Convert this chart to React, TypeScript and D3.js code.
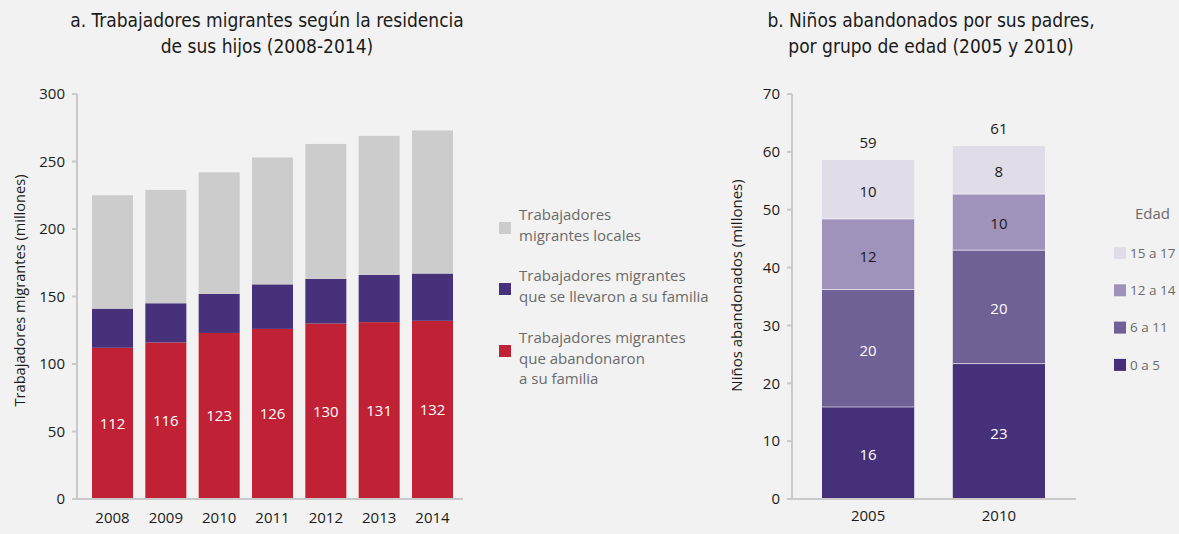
import React from "react";
import * as d3 from "d3";

// panel a: migrant workers by residence of children (millions)
const years = ["2008", "2009", "2010", "2011", "2012", "2013", "2014"];
const abandoned = [112, 116, 123, 126, 130, 131, 132];
const tookFamily = [29, 29, 29, 33, 33, 35, 35];
const localWorkers = [84, 84, 90, 94, 100, 103, 106];
const leftTicks = [0, 50, 100, 150, 200, 250, 300];
const leftLegend = [
  { key: "local", lines: ["Trabajadores", "migrantes locales"] },
  { key: "took", lines: ["Trabajadores migrantes", "que se llevaron a su familia"] },
  { key: "abandoned", lines: ["Trabajadores migrantes", "que abandonaron", "a su familia"] },
];

// panel b: abandoned children by age group (millions)
const censusYears = ["2005", "2010"];
const ageGroups = ["0 a 5", "6 a 11", "12 a 14", "15 a 17"];
const age0to5 = [15.9, 23.4];
const age6to11 = [20.3, 19.6];
const age12to14 = [12.2, 9.7];
const age15to17 = [10.2, 8.3];
const rightTicks = [0, 10, 20, 30, 40, 50, 60, 70];

const W = 1179;
const H = 534;
const BG = "#f2f2f2";
const AXIS = "#c9c9c9";
const TEXT = "#1a1a1a";
const LEGEND_TEXT = "#6b6b6b";
const FONT = "'Open Sans', 'Noto Sans', sans-serif";
const TITLE_FONT = "'Liberation Sans Narrow', 'DejaVu Sans Condensed', sans-serif";

const leftColors: Record<string, string> = {
  local: "#cccccc",
  took: "#47317a",
  abandoned: "#c12134",
};
const ageColors = ["#46307a", "#6f6096", "#a093bb", "#e0dde9"];
const ageLabelColors = ["#ffffff", "#ffffff", TEXT, TEXT];

const LeftChart = () => {
  const x = d3.scaleBand<string>().domain(years).range([92, 453]).paddingInner(0.231);
  const y = d3.scaleLinear().domain([0, 300]).range([499, 94]);
  const rows = years.map((yr, i) => ({
    year: yr,
    abandoned: abandoned[i],
    took: tookFamily[i],
    local: localWorkers[i],
  }));
  const stacked = d3.stack<any>().keys(["abandoned", "took", "local"])(rows);

  return (
    <g>
      <text x={267} y={27} textAnchor="middle" fontFamily={TITLE_FONT} fontSize={19} fill={TEXT}>
        a. Trabajadores migrantes según la residencia
      </text>
      <text x={267} y={53} textAnchor="middle" fontFamily={TITLE_FONT} fontSize={19} fill={TEXT}>
        de sus hijos (2008-2014)
      </text>

      {stacked.map((layer) => (
        <g key={layer.key} fill={leftColors[layer.key]}>
          {layer.map((d, i) => (
            <rect
              key={years[i]}
              x={x(years[i])}
              y={y(d[1])}
              width={x.bandwidth()}
              height={y(d[0]) - y(d[1])}
            />
          ))}
        </g>
      ))}
      {abandoned.map((v, i) => (
        <text
          key={`lab-${i}`}
          x={(x(years[i]) as number) + x.bandwidth() / 2}
          y={(y(0) + y(v)) / 2}
          dy="0.35em"
          textAnchor="middle"
          fontFamily={FONT}
          fontSize={15}
          fill="#ffffff"
        >
          {v}
        </text>
      ))}

      {/* axes */}
      <line x1={77} x2={77} y1={94} y2={500} stroke={AXIS} strokeWidth={2} />
      <line x1={72} x2={463} y1={y(0)} y2={y(0)} stroke={AXIS} strokeWidth={2} />
      {leftTicks.map((t) => (
        <g key={t}>
          <line x1={72} x2={77} y1={y(t)} y2={y(t)} stroke={AXIS} strokeWidth={2} />
          <text x={65} y={y(t)} dy="0.35em" textAnchor="end" fontFamily={FONT} fontSize={15} fill={TEXT}>
            {t}
          </text>
        </g>
      ))}
      {years.map((yr) => (
        <text
          key={yr}
          x={(x(yr) as number) + x.bandwidth() / 2}
          y={518}
          dy="0.35em"
          textAnchor="middle"
          fontFamily={FONT}
          fontSize={15}
          fill={TEXT}
        >
          {yr}
        </text>
      ))}
      <text
        transform={`translate(20, ${(y(0) + y(300)) / 2 - 6}) rotate(-90)`}
        textAnchor="middle"
        dy="0.35em"
        fontFamily={FONT}
        fontSize={14.6}
        fill={TEXT}
      >
        Trabajadores migrantes (millones)
      </text>

      {/* legend */}
      {leftLegend.map((item, i) => {
        const top = [215, 276, 338][i];
        return (
          <g key={item.key}>
            <rect x={499} y={top + 7} width={12} height={12} fill={leftColors[item.key]} />
            {item.lines.map((ln, j) => (
              <text
                key={j}
                x={519}
                y={top + j * 20.5}
                dy="0.35em"
                fontFamily={FONT}
                fontSize={15}
                fill={LEGEND_TEXT}
              >
                {ln}
              </text>
            ))}
          </g>
        );
      })}
    </g>
  );
};

const RightChart = () => {
  const x = d3.scaleBand<string>().domain(censusYears).range([822, 1045]).paddingInner(0.295);
  const y = d3.scaleLinear().domain([0, 70]).range([499, 94]);
  const rows = censusYears.map((yr, i) => ({
    year: yr,
    a0: age0to5[i],
    a1: age6to11[i],
    a2: age12to14[i],
    a3: age15to17[i],
  }));
  const keys = ["a0", "a1", "a2", "a3"];
  const stacked = d3.stack<any>().keys(keys)(rows);

  return (
    <g>
      <text x={931} y={27} textAnchor="middle" fontFamily={TITLE_FONT} fontSize={19} fill={TEXT}>
        b. Niños abandonados por sus padres,
      </text>
      <text x={931} y={53} textAnchor="middle" fontFamily={TITLE_FONT} fontSize={19} fill={TEXT}>
        por grupo de edad (2005 y 2010)
      </text>

      {stacked.map((layer, k) => (
        <g key={layer.key}>
          {layer.map((d, i) => {
            const x0 = x(censusYears[i]) as number;
            return (
              <g key={censusYears[i]}>
                <rect
                  x={x0}
                  y={y(d[1])}
                  width={x.bandwidth()}
                  height={y(d[0]) - y(d[1])}
                  fill={ageColors[k]}
                />
                {k > 0 && (
                  <line x1={x0} x2={x0 + x.bandwidth()} y1={y(d[0])} y2={y(d[0])} stroke="#ffffff" strokeOpacity={0.6} strokeWidth={1} />
                )}
                <text
                  x={x0 + x.bandwidth() / 2}
                  y={(y(d[0]) + y(d[1])) / 2 + 2}
                  dy="0.35em"
                  textAnchor="middle"
                  fontFamily={FONT}
                  fontSize={15}
                  fill={ageLabelColors[k]}
                >
                  {Math.round(d[1] - d[0])}
                </text>
              </g>
            );
          })}
        </g>
      ))}
      {rows.map((r) => {
        const total = r.a0 + r.a1 + r.a2 + r.a3;
        return (
          <text
            key={r.year}
            x={(x(r.year) as number) + x.bandwidth() / 2}
            y={y(total) - 17}
            dy="0.35em"
            textAnchor="middle"
            fontFamily={FONT}
            fontSize={15}
            fill={TEXT}
          >
            {Math.round(total)}
          </text>
        );
      })}

      {/* axes */}
      <line x1={792} x2={792} y1={94} y2={500} stroke={AXIS} strokeWidth={2} />
      <line x1={787} x2={1076} y1={y(0)} y2={y(0)} stroke={AXIS} strokeWidth={2} />
      {rightTicks.map((t) => (
        <g key={t}>
          <line x1={787} x2={792} y1={y(t)} y2={y(t)} stroke={AXIS} strokeWidth={2} />
          <text x={780} y={y(t)} dy="0.35em" textAnchor="end" fontFamily={FONT} fontSize={15} fill={TEXT}>
            {t}
          </text>
        </g>
      ))}
      {censusYears.map((yr) => (
        <text
          key={yr}
          x={(x(yr) as number) + x.bandwidth() / 2}
          y={516}
          dy="0.35em"
          textAnchor="middle"
          fontFamily={FONT}
          fontSize={15}
          fill={TEXT}
        >
          {yr}
        </text>
      ))}
      <text
        transform={`translate(737, ${(y(0) + y(70)) / 2 - 11}) rotate(-90)`}
        textAnchor="middle"
        dy="0.35em"
        fontFamily={FONT}
        fontSize={15}
        fill={TEXT}
      >
        Niños abandonados (millones)
      </text>

      {/* legend */}
      <text x={1170} y={214} dy="0.35em" textAnchor="end" fontFamily={FONT} fontSize={15} fill={LEGEND_TEXT}>
        Edad
      </text>
      {ageGroups
        .map((g, k) => ({ g, k }))
        .reverse()
        .map(({ g, k }, i) => {
          const cy = 253 + i * 37.3;
          return (
            <g key={g}>
              <rect x={1114} y={cy - 6} width={12} height={12} fill={ageColors[k]} />
              <text x={1130} y={cy} dy="0.35em" fontFamily={FONT} fontSize={13.5} fill={LEGEND_TEXT}>
                {g}
              </text>
            </g>
          );
        })}
    </g>
  );
};

export default function App() {
  return (
    <svg
      width={W}
      height={H}
      viewBox={`0 0 ${W} ${H}`}
      style={{ position: "absolute", left: 0, top: 0, display: "block" }}
    >
      <rect width={W} height={H} fill={BG} />
      <LeftChart />
      <RightChart />
    </svg>
  );
}
